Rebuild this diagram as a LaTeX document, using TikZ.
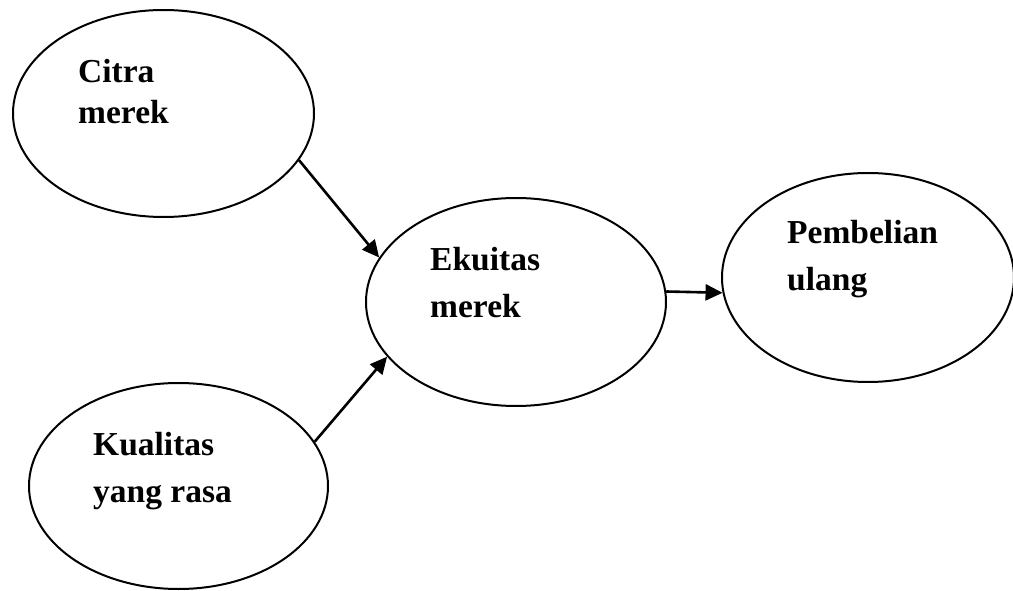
\documentclass[tikz,border=0pt]{standalone}
\usepackage{fontspec}
\setmainfont{Liberation Serif}
\usetikzlibrary{shapes.geometric,arrows.meta}
\begin{document}
\begin{tikzpicture}[x=1pt, y=-1pt,
    konstruk/.style={ellipse, draw, line width=2pt, inner sep=0pt},
    teks/.style={anchor=base west, align=left, inner sep=0pt,
      font=\bfseries\fontsize{33.5}{47}\selectfont},
    panah/.style={line width=2.6pt, -{Triangle[length=17pt,width=16pt]}}]
  \useasboundingbox (0,0) rectangle (1013,591);
  % Variabel
  \node[konstruk, minimum width=301pt, minimum height=207pt] (citra) at (163.5,113.5) {};
  \node[konstruk, minimum width=300pt, minimum height=208pt] (ekuitas) at (516,302) {};
  \node[konstruk, minimum width=292pt, minimum height=209pt] (pembelian) at (868,277.5) {};
  \node[konstruk, minimum width=299pt, minimum height=206pt] (kualitas) at (178.5,486) {};
  % Label (base = last line)
  \node[teks, font=\bfseries\fontsize{33.5}{41}\selectfont] (tcitra) at (78,124) {Citra\\merek};
  \node[teks] (tekuitas) at (430,317) {Ekuitas\\merek};
  \node[teks] (tpembelian) at (787,290) {Pembelian\\ulang};
  \node[teks] (tkualitas) at (93,502) {Kualitas\\yang rasa};
  % Hubungan
  \draw[panah] (citra.-19) -- (ekuitas.162);
  \draw[panah] (kualitas.18) -- (ekuitas.-157);
  \draw[panah] (ekuitas.4) -- (pembelian.186);
\end{tikzpicture}
\end{document}
